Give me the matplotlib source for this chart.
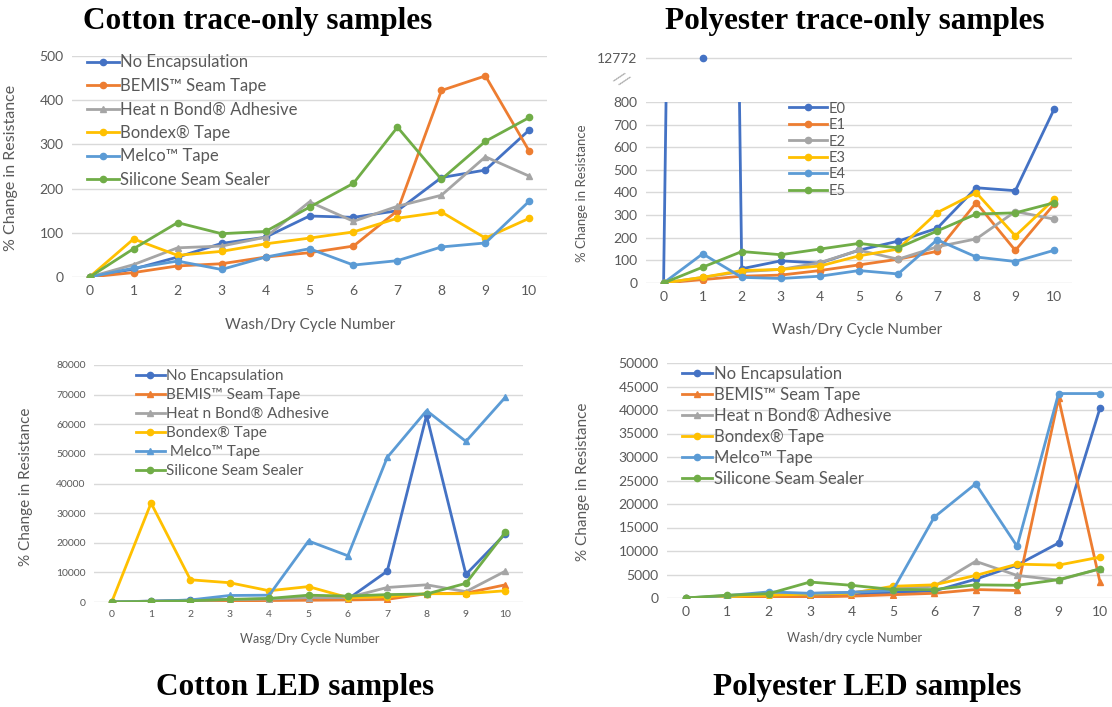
import matplotlib.pyplot as plt

plt.rcParams['font.family'] = ['Lato', 'DejaVu Sans']

cycles = list(range(11))
coatings = ["No Encapsulation", "BEMIS™ Seam Tape", "Heat n Bond® Adhesive",
            "Bondex® Tape", "Melco™ Tape", "Silicone Seam Sealer"]
coatings_led = ["No Encapsulation", "BEMIS™ Seam Tape", "Heat n Bond® Adhesive",
                "Bondex® Tape", " Melco™ Tape", "Silicone Seam Sealer"]
e_labels = ["E0", "E1", "E2", "E3", "E4", "E5"]
colors = ["#4472C4", "#ED7D31", "#A5A5A5", "#FFC000", "#5B9BD5", "#70AD47"]

# cotton, trace only (% change in resistance)
cot_trace_none = [0, 18, 45, 76, 90, 138, 135, 150, 225, 242, 333]
cot_trace_bemis = [0, 10, 25, 30, 45, 55, 70, 150, 422, 455, 284]
cot_trace_hnb = [0, 28, 66, 70, 90, 170, 126, 160, 185, 272, 228]
cot_trace_bondex = [0, 86, 49, 58, 75, 88, 102, 133, 147, 88, 133]
cot_trace_melco = [0, 20, 36, 17, 45, 64, 27, 37, 68, 77, 172]
cot_trace_sil = [0, 64, 123, 98, 103, 158, 212, 339, 221, 307, 361]

# polyester, trace only
pol_trace_e0 = [0, 12772, 63, 98, 88, 145, 185, 242, 421, 408, 771]
pol_trace_e1 = [0, 15, 30, 35, 55, 80, 105, 140, 355, 144, 350]
pol_trace_e2 = [0, 25, 50, 60, 90, 145, 105, 160, 195, 316, 282]
pol_trace_e3 = [0, 25, 55, 60, 75, 120, 150, 311, 399, 208, 371]
pol_trace_e4 = [0, 129, 25, 20, 30, 55, 40, 191, 115, 95, 145]
pol_trace_e5 = [0, 70, 139, 125, 150, 175, 155, 230, 305, 310, 355]

# cotton, LED
cot_led_none = [0, 300, 600, 800, 1000, 1000, 1000, 10400, 63000, 9300, 23000]
cot_led_bemis = [0, 200, 300, 400, 500, 600, 700, 900, 2800, 3000, 5800]
cot_led_hnb = [0, 300, 500, 800, 1000, 1500, 1500, 4900, 5800, 3500, 10400]
cot_led_bondex = [0, 33400, 7500, 6500, 3800, 5200, 1500, 1800, 2800, 2800, 3800]
cot_led_melco = [0, 200, 700, 2200, 2300, 20600, 15600, 48800, 64600, 54200, 69100]
cot_led_sil = [0, 200, 400, 900, 1200, 2300, 2000, 2500, 2700, 6300, 23500]

# polyester, LED
pol_led_none = [0, 300, 700, 500, 800, 1200, 1500, 4000, 7000, 11700, 40400]
pol_led_bemis = [0, 200, 300, 200, 400, 700, 1000, 1800, 1600, 42500, 3400]
pol_led_hnb = [0, 300, 800, 1000, 1200, 2000, 2500, 7800, 4800, 3800, 6200]
pol_led_bondex = [0, 300, 600, 800, 1000, 2500, 2800, 4800, 7200, 7000, 8700]
pol_led_melco = [0, 500, 1300, 1000, 1200, 1600, 17200, 24300, 11000, 43500, 43500]
pol_led_sil = [0, 600, 900, 3400, 2700, 1800, 1800, 2800, 2700, 3900, 6200]

W, H = 1112, 707
fig = plt.figure(figsize=(W / 100, H / 100), dpi=100)
txt = "#595959"
grid = "#D9D9D9"


def box(l, t, r, b):
    return [l / W, 1 - b / H, (r - l) / W, (b - t) / H]


def style(ax, xlo, xhi, ymax, step, tick_fs):
    ax.set_xlim(xlo, xhi)
    ax.set_ylim(0, ymax)
    ax.set_xticks(cycles)
    ax.set_yticks(range(0, ymax + 1, step))
    ax.grid(axis='y', color=grid, lw=1)
    ax.set_axisbelow(True)
    for s in ax.spines.values():
        s.set_visible(False)
    ax.tick_params(length=0, colors=txt, labelsize=tick_fs, pad=6)


def draw(ax, series, labels, markers):
    for ys, lab, c, m in zip(series, labels, colors, markers):
        ax.plot(cycles, ys, color=c, lw=2, marker=m, ms=4.5, label=lab)


# --- cotton trace-only ---
ax1 = fig.add_axes(box(72, 56, 547, 277))
draw(ax1, [cot_trace_none, cot_trace_bemis, cot_trace_hnb, cot_trace_bondex,
           cot_trace_melco, cot_trace_sil], coatings, ['o', 'o', '^', 'o', 'o', 'o'])
style(ax1, -0.4, 10.4, 500, 100, 10)
ax1.set_xlabel("Wash/Dry Cycle Number", color=txt, fontsize=11)
ax1.xaxis.set_label_coords(310 / W, 1 - 318 / H, transform=fig.transFigure)
ax1.set_ylabel("% Change in Resistance", color=txt, fontsize=11.5)
ax1.yaxis.set_label_coords(18 / W, 1 - 168 / H, transform=fig.transFigure)
ax1.legend(loc='upper left', bbox_to_anchor=(0.0, 1.075), frameon=False, fontsize=12,
           labelcolor=txt, handlelength=1.9, handletextpad=0.1, labelspacing=0.45)

# --- polyester trace-only (broken axis) ---
ax2 = fig.add_axes(box(646, 102, 1072, 283))
draw(ax2, [pol_trace_e0, pol_trace_e1, pol_trace_e2, pol_trace_e3,
           pol_trace_e4, pol_trace_e5], e_labels, ['o'] * 6)
style(ax2, -0.45, 10.45, 800, 100, 10)
ax2.set_xlabel("Wash/Dry Cycle Number", color=txt, fontsize=11)
ax2.xaxis.set_label_coords(857 / W, 1 - 323 / H, transform=fig.transFigure)
ax2.set_ylabel("% Change in Resistance", color=txt, fontsize=9.5)
ax2.yaxis.set_label_coords(588 / W, 1 - 193 / H, transform=fig.transFigure)
ax2.legend(loc='upper left', bbox_to_anchor=(0.305, 1.075), frameon=False, fontsize=10.5,
           labelcolor=txt, handlelength=2.6, handletextpad=0.1, labelspacing=0.17)

ax2t = fig.add_axes(box(646, 48, 1072, 68))
ax2t.plot(cycles, pol_trace_e0, color=colors[0], lw=0, marker='o', ms=4.5)
ax2t.set_xlim(-0.45, 10.45)
ax2t.set_ylim(pol_trace_e0[1] - 100, pol_trace_e0[1] + 100)
ax2t.set_yticks([pol_trace_e0[1]])
ax2t.set_xticks([])
ax2t.grid(axis='y', color=grid, lw=1)
for s in ax2t.spines.values():
    s.set_visible(False)
ax2t.tick_params(length=0, colors=txt, labelsize=10, pad=6)
fig.text(621 / W, 1 - 80 / H, "//", color="#A6A6A6", fontsize=12, rotation=-35,
         ha='center', va='center')

# --- cotton LED ---
ax3 = fig.add_axes(box(94, 365, 523, 602))
draw(ax3, [cot_led_none, cot_led_bemis, cot_led_hnb, cot_led_bondex,
           cot_led_melco, cot_led_sil], coatings_led, ['o', '^', '^', 'o', '^', 'o'])
style(ax3, -0.45, 10.45, 80000, 10000, 7.5)
ax3.set_xlabel("Wasg/Dry Cycle Number", color=txt, fontsize=9)
ax3.xaxis.set_label_coords(310 / W, 1 - 633 / H, transform=fig.transFigure)
ax3.set_ylabel("% Change in Resistance", color=txt, fontsize=11)
ax3.yaxis.set_label_coords(33 / W, 1 - 487 / H, transform=fig.transFigure)
ax3.legend(loc='upper left', bbox_to_anchor=(0.065, 1.04), frameon=False, fontsize=11,
           labelcolor=txt, handlelength=1.9, handletextpad=0.1, labelspacing=0.33)

# --- polyester LED ---
ax4 = fig.add_axes(box(667, 363, 1112, 598))
draw(ax4, [pol_led_none, pol_led_bemis, pol_led_hnb, pol_led_bondex,
           pol_led_melco, pol_led_sil], coatings, ['o', '^', '^', 'o', 'o', 'o'])
style(ax4, -0.45, 10.29, 50000, 5000, 10)
ax4.set_xlabel("Wash/dry cycle Number", color=txt, fontsize=9)
ax4.xaxis.set_label_coords(855 / W, 1 - 632 / H, transform=fig.transFigure)
ax4.set_ylabel("% Change in Resistance", color=txt, fontsize=11)
ax4.yaxis.set_label_coords(590 / W, 1 - 482 / H, transform=fig.transFigure)
ax4.legend(loc='upper left', bbox_to_anchor=(0.0, 1.05), frameon=False, fontsize=12,
           labelcolor=txt, handlelength=1.8, handletextpad=0.1, labelspacing=0.3)

title_kw = dict(family=['Liberation Serif', 'DejaVu Serif'], fontweight='bold',
                fontsize=22.5, ha='center', va='center')
fig.text(258 / W, 1 - 21 / H, "Cotton trace-only samples", **title_kw)
fig.text(855 / W, 1 - 21 / H, "Polyester trace-only samples", **title_kw)
fig.text(295 / W, 1 - 688 / H, "Cotton LED samples", **title_kw)
fig.text(867 / W, 1 - 688 / H, "Polyester LED samples", **title_kw)

fig.savefig("out.png", dpi=100)
